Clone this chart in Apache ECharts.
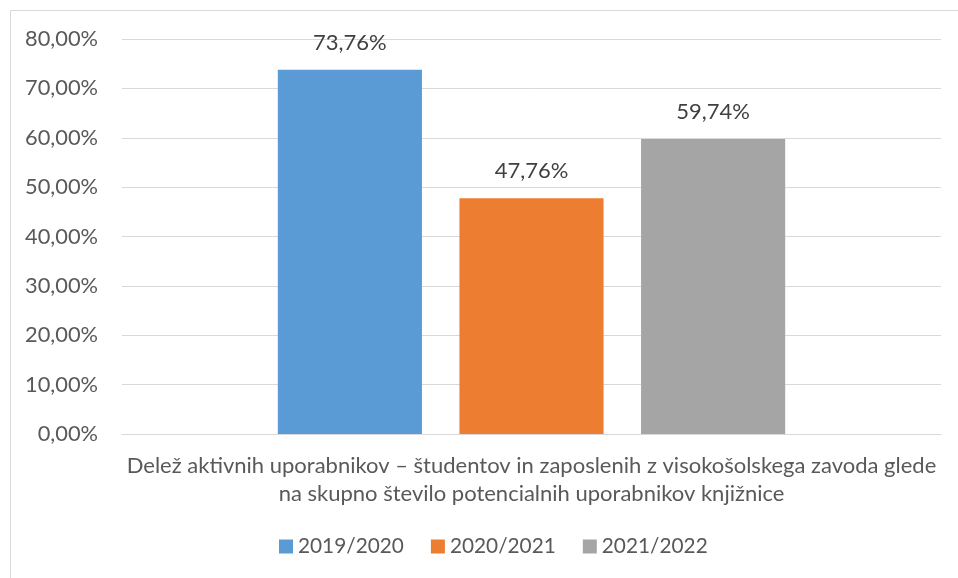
<!DOCTYPE html>
<html>
<head>
<meta charset="utf-8">
<script src="https://cdn.jsdelivr.net/npm/echarts@6/dist/echarts.min.js"></script>
<style>
  html, body { margin: 0; padding: 0; background: #fff; }
  #chart { width: 958px; height: 578px; }
</style>
</head>
<body>
<div id="chart"></div>
<script>
// Share of active users relative to potential library users, by academic year
const categories = ['Delež aktivnih uporabnikov – študentov in zaposlenih z visokošolskega zavoda glede\nna skupno število potencialnih uporabnikov knjižnice'];
const years = ['2019/2020', '2020/2021', '2021/2022'];
const values = [73.76, 47.76, 59.74];
const colors = ['#5b9bd5', '#ed7d31', '#a5a5a5'];

const fmt = v => v.toFixed(2).replace('.', ',') + '%';
const FONT = 'Lato';

const chart = echarts.init(document.getElementById('chart'));
chart.setOption({
  animation: false,
  textStyle: { fontFamily: FONT },
  graphic: [{
    type: 'rect',
    shape: { x: 10.5, y: 10.5, width: 1000, height: 1000 },
    style: { fill: 'none', stroke: '#d9d9d9', lineWidth: 1 },
    silent: true
  }],
  grid: { left: 122, right: 17, top: 39, bottom: 144 },
  legend: {
    top: 536,
    left: 279,
    itemWidth: 14,
    itemHeight: 14,
    itemGap: 27,
    icon: 'rect',
    padding: 0,
    textStyle: { fontSize: 20.8, color: '#595959', fontFamily: FONT }
  },
  xAxis: {
    type: 'category',
    data: categories,
    axisLine: { lineStyle: { color: '#d9d9d9', width: 1 } },
    axisTick: { show: false },
    axisLabel: { color: '#595959', fontSize: 22, lineHeight: 28, margin: 18, fontFamily: FONT }
  },
  yAxis: {
    type: 'value',
    min: 0,
    max: 80,
    interval: 10,
    axisLine: { show: false },
    axisTick: { show: false },
    splitLine: { lineStyle: { color: '#d9d9d9', width: 1 } },
    axisLabel: {
      color: '#595959', fontSize: 21.8, margin: 24, fontFamily: FONT,
      formatter: v => fmt(v)
    }
  },
  series: years.map((y, i) => ({
    name: y,
    type: 'bar',
    data: [values[i]],
    barWidth: '17.6%',
    barGap: '26%',
    itemStyle: { color: colors[i] },
    label: {
      show: true,
      position: 'top',
      distance: 16,
      color: '#404040',
      fontSize: 22,
      fontFamily: FONT,
      formatter: p => fmt(p.value)
    }
  }))
});
</script>
</body>
</html>
